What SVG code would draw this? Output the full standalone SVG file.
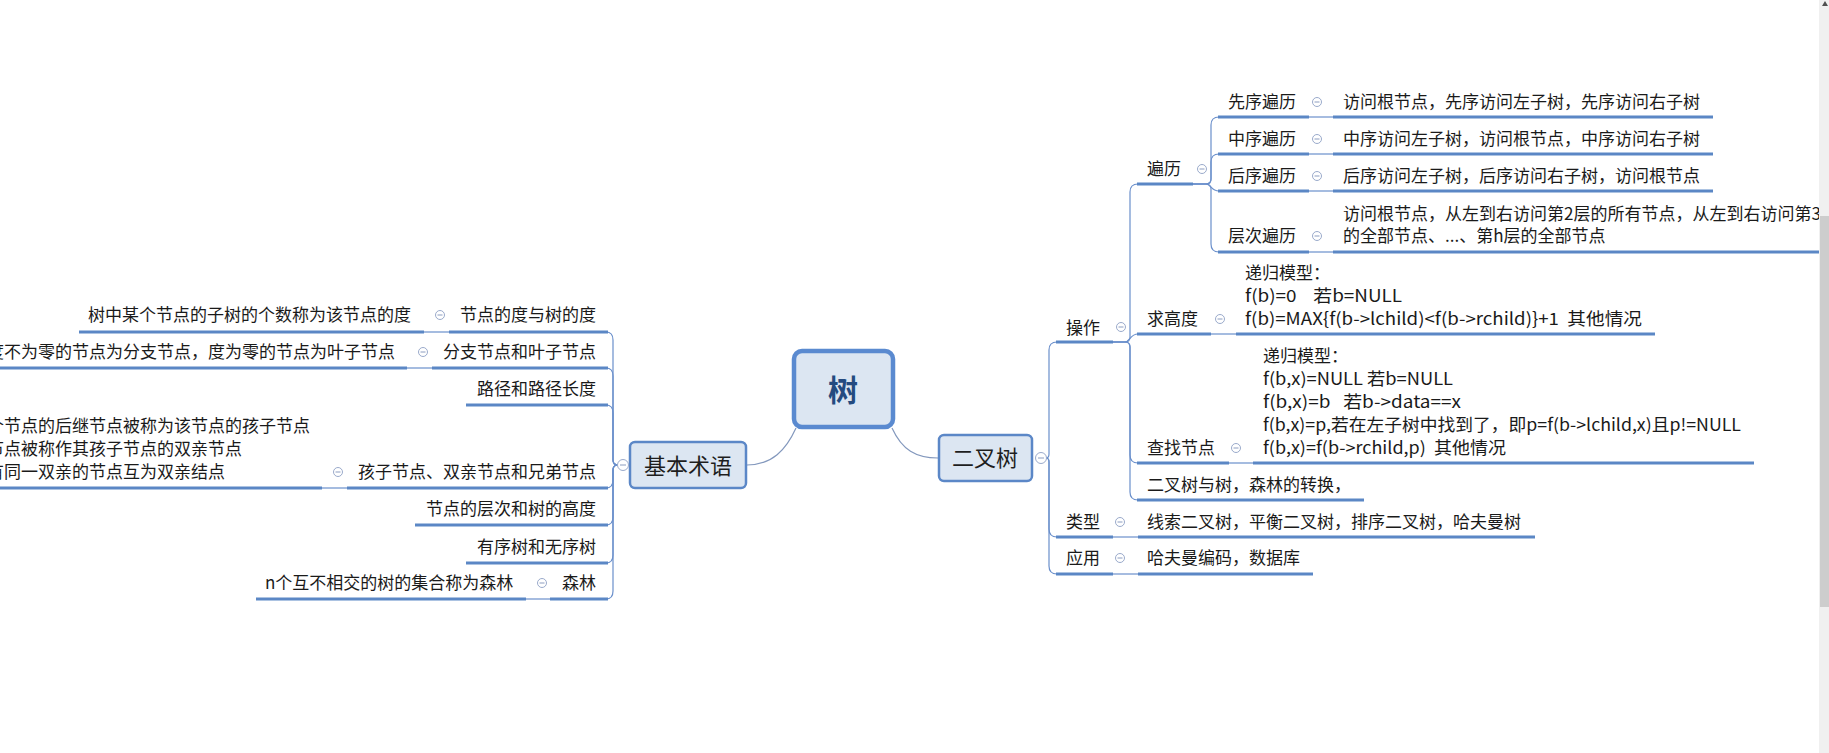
<svg xmlns="http://www.w3.org/2000/svg" width="1829" height="753" viewBox="0 0 1829 753">
<style>
text{font-family:"Noto Sans CJK SC","Microsoft YaHei",sans-serif;font-size:17px;fill:#1a1a1a}
.e{text-anchor:end}
.ul{stroke:#5b87c5;stroke-width:3;fill:none}
.ln{stroke:#6a8fcb;stroke-width:1.2;fill:none}
.rc{stroke:#8398bd;stroke-width:1.2;fill:none}
.ic{fill:#fff;stroke:#9aaacb;stroke-width:1}
.icm{stroke:#8c9dc0;stroke-width:1}
.box{fill:#dce6f2;stroke:#5b87c7;stroke-width:2.5}
.big{font-size:22px;fill:#1e1e1e;text-anchor:middle}
</style>
<defs>
<g id="icon"><circle class="ic" r="4.5"/><line class="icm" x1="-2.5" y1="0" x2="2.5" y2="0"/></g>
<g id="iconL"><circle class="ic" r="5.5"/><line class="icm" x1="-3" y1="0" x2="3" y2="0"/></g>
</defs>
<rect width="1829" height="753" fill="#fff"/>

<g id="connectors">
<path class="rc" d="M796 428 C786 450 772 465 747 465"/>
<path class="rc" d="M892 428 C902 450 916 458 938 458"/>
<!-- 基本术语 bracket -->
<path class="ln" d="M618 465 Q613 465 613 460 L613 340 Q613 332 606 332"/>
<path class="ln" d="M618 465 Q613 465 613 460 L613 376 Q613 368 606 368"/>
<path class="ln" d="M618 465 Q613 465 613 460 L613 413 Q613 405 606 405"/>
<path class="ln" d="M618 465 Q613 465 613 470 L613 480 Q613 488 606 488"/>
<path class="ln" d="M618 465 Q613 465 613 470 L613 517 Q613 525 606 525"/>
<path class="ln" d="M618 465 Q613 465 613 470 L613 555 Q613 563 606 563"/>
<path class="ln" d="M618 465 Q613 465 613 470 L613 591 Q613 599 606 599"/>
<!-- left single links -->
<path class="ln" d="M424 332 H449"/>
<path class="ln" d="M407 368 H432"/>
<path class="ln" d="M322 488 H347"/>
<path class="ln" d="M526 599 H550"/>
<!-- 二叉树 bracket -->
<path class="ln" d="M1046 458 Q1049 458 1049 454 L1049 350 Q1049 342 1057 342"/>
<path class="ln" d="M1046 458 Q1049 458 1049 462 L1049 529 Q1049 537 1057 537"/>
<path class="ln" d="M1046 458 Q1049 458 1049 462 L1049 566 Q1049 574 1057 574"/>
<!-- 操作 bracket -->
<path class="ln" d="M1113 342 H1125 Q1130 342 1130 337 L1130 192 Q1130 184 1138 184"/>
<path class="ln" d="M1113 342 H1125 C1130 342 1130 334 1138 334"/>
<path class="ln" d="M1113 342 H1125 Q1130 342 1130 347 L1130 455 Q1130 463 1138 463"/>
<path class="ln" d="M1113 342 H1125 Q1130 342 1130 347 L1130 492 Q1130 500 1138 500"/>
<!-- 遍历 bracket -->
<path class="ln" d="M1193 184 H1206 Q1211 184 1211 179 L1211 125 Q1211 117 1219 117"/>
<path class="ln" d="M1193 184 H1206 Q1211 184 1211 179 L1211 162 Q1211 154 1219 154"/>
<path class="ln" d="M1193 184 H1206 C1211 184 1211 191 1219 191"/>
<path class="ln" d="M1193 184 H1206 Q1211 184 1211 189 L1211 244 Q1211 252 1219 252"/>
<!-- right single links -->
<path class="ln" d="M1309 117 H1333"/>
<path class="ln" d="M1309 154 H1333"/>
<path class="ln" d="M1309 191 H1333"/>
<path class="ln" d="M1309 252 H1333"/>
<path class="ln" d="M1211 334 H1236"/>
<path class="ln" d="M1229 463 H1253"/>
<path class="ln" d="M1113 537 H1138"/>
<path class="ln" d="M1113 574 H1138"/>
</g>

<g id="root">
<rect x="794" y="351" width="99" height="76" rx="8" fill="#dce6f2" stroke="#5a8ad0" stroke-width="4.5"/>
<text x="843" y="401" style="font-size:30px;font-weight:700;fill:#244b80;text-anchor:middle">树</text>
</g>

<g id="n-jbsy">
<rect class="box" x="630" y="442" width="116" height="46" rx="5"/>
<text class="big" x="688" y="474">基本术语</text>
<use href="#iconL" x="623" y="465"/>
</g>
<g id="n-ecs">
<rect class="box" x="939" y="435" width="93" height="46" rx="5"/>
<text class="big" x="985" y="466">二叉树</text>
<use href="#iconL" x="1041" y="458"/>
</g>

<!-- left side -->
<g id="n-dd">
<text class="e" x="596" y="321">节点的度与树的度</text>
<line class="ul" x1="449" y1="332" x2="608" y2="332"/>
<use href="#icon" x="440" y="315"/>
</g>
<g id="n-dd-c">
<text x="88" y="321">树中某个节点的子树的个数称为该节点的度</text>
<line class="ul" x1="79" y1="332" x2="424" y2="332"/>
</g>
<g id="n-fz">
<text class="e" x="596" y="358">分支节点和叶子节点</text>
<line class="ul" x1="432" y1="368" x2="608" y2="368"/>
<use href="#icon" x="423" y="352"/>
</g>
<g id="n-fz-c">
<text x="-13" y="358">度不为零的节点为分支节点，度为零的节点为叶子节点</text>
<line class="ul" x1="-10" y1="368" x2="407" y2="368"/>
</g>
<g id="n-lj">
<text class="e" x="596" y="395">路径和路径长度</text>
<line class="ul" x1="466" y1="405" x2="608" y2="405"/>
</g>
<g id="n-hz">
<text class="e" x="596" y="478">孩子节点、双亲节点和兄弟节点</text>
<line class="ul" x1="347" y1="488" x2="608" y2="488"/>
<use href="#icon" x="338" y="472"/>
</g>
<g id="n-hz-c">
<text x="-13" y="432">个节点的后继节点被称为该节点的孩子节点</text>
<text x="-13" y="455">节点被称作其孩子节点的双亲节点</text>
<text x="-13" y="478">有同一双亲的节点互为双亲结点</text>
<line class="ul" x1="-10" y1="488" x2="322" y2="488"/>
</g>
<g id="n-cc">
<text class="e" x="596" y="515">节点的层次和树的高度</text>
<line class="ul" x1="415" y1="525" x2="608" y2="525"/>
</g>
<g id="n-yx">
<text class="e" x="596" y="553">有序树和无序树</text>
<line class="ul" x1="466" y1="563" x2="608" y2="563"/>
</g>
<g id="n-sl">
<text class="e" x="596" y="589">森林</text>
<line class="ul" x1="550" y1="599" x2="608" y2="599"/>
<use href="#icon" x="542" y="583"/>
</g>
<g id="n-sl-c">
<text x="265" y="589">n个互不相交的树的集合称为森林</text>
<line class="ul" x1="256" y1="599" x2="526" y2="599"/>
</g>

<!-- right side -->
<g id="n-cz">
<text x="1066" y="334">操作</text>
<line class="ul" x1="1056" y1="342" x2="1113" y2="342"/>
<use href="#icon" x="1121" y="327"/>
</g>
<g id="n-bl">
<text x="1147" y="175">遍历</text>
<line class="ul" x1="1137" y1="184" x2="1193" y2="184"/>
<use href="#icon" x="1202" y="169"/>
</g>
<g id="n-xx">
<text x="1228" y="108">先序遍历</text>
<line class="ul" x1="1218" y1="117" x2="1309" y2="117"/>
<use href="#icon" x="1317" y="102"/>
</g>
<g id="n-xx-c">
<text x="1343" y="108">访问根节点，先序访问左子树，先序访问右子树</text>
<line class="ul" x1="1333" y1="117" x2="1713" y2="117"/>
</g>
<g id="n-zx">
<text x="1228" y="145">中序遍历</text>
<line class="ul" x1="1218" y1="154" x2="1309" y2="154"/>
<use href="#icon" x="1317" y="139"/>
</g>
<g id="n-zx-c">
<text x="1343" y="145">中序访问左子树，访问根节点，中序访问右子树</text>
<line class="ul" x1="1333" y1="154" x2="1713" y2="154"/>
</g>
<g id="n-hx">
<text x="1228" y="182">后序遍历</text>
<line class="ul" x1="1218" y1="191" x2="1309" y2="191"/>
<use href="#icon" x="1317" y="176"/>
</g>
<g id="n-hx-c">
<text x="1343" y="182">后序访问左子树，后序访问右子树，访问根节点</text>
<line class="ul" x1="1333" y1="191" x2="1713" y2="191"/>
</g>
<g id="n-ccbl">
<text x="1228" y="242">层次遍历</text>
<line class="ul" x1="1218" y1="252" x2="1309" y2="252"/>
<use href="#icon" x="1317" y="236"/>
</g>
<g id="n-ccbl-c">
<text x="1343" y="220">访问根节点，从左到右访问第2层的所有节点，从左到右访问第3</text>
<text x="1343" y="242">的全部节点、...、第h层的全部节点</text>
<line class="ul" x1="1333" y1="252" x2="1829" y2="252"/>
</g>
<g id="n-qgd">
<text x="1147" y="325">求高度</text>
<line class="ul" x1="1137" y1="334" x2="1211" y2="334"/>
<use href="#icon" x="1220" y="319"/>
</g>
<g id="n-qgd-c">
<text x="1245" y="279">递归模型：</text>
<text x="1245" y="302" xml:space="preserve" textLength="157" lengthAdjust="spacingAndGlyphs">f(b)=0    若b=NULL</text>
<text x="1245" y="325" xml:space="preserve" textLength="397" lengthAdjust="spacingAndGlyphs">f(b)=MAX{f(b-&gt;lchild)&lt;f(b-&gt;rchild)}+1  其他情况</text>
<line class="ul" x1="1236" y1="334" x2="1655" y2="334"/>
</g>
<g id="n-czjd">
<text x="1147" y="454">查找节点</text>
<line class="ul" x1="1137" y1="463" x2="1229" y2="463"/>
<use href="#icon" x="1236" y="448"/>
</g>
<g id="n-czjd-c">
<text x="1263" y="362">递归模型：</text>
<text x="1263" y="385" xml:space="preserve" textLength="190" lengthAdjust="spacingAndGlyphs">f(b,x)=NULL 若b=NULL</text>
<text x="1263" y="408" xml:space="preserve" textLength="198" lengthAdjust="spacingAndGlyphs">f(b,x)=b   若b-&gt;data==x</text>
<text x="1263" y="431" xml:space="preserve" textLength="478" lengthAdjust="spacingAndGlyphs">f(b,x)=p,若在左子树中找到了，即p=f(b-&gt;lchild,x)且p!=NULL</text>
<text x="1263" y="454" xml:space="preserve" textLength="243" lengthAdjust="spacingAndGlyphs">f(b,x)=f(b-&gt;rchild,p)  其他情况</text>
<line class="ul" x1="1253" y1="463" x2="1754" y2="463"/>
</g>
<g id="n-zh">
<text x="1147" y="491">二叉树与树，森林的转换，</text>
<line class="ul" x1="1137" y1="500" x2="1364" y2="500"/>
</g>
<g id="n-lx">
<text x="1066" y="528">类型</text>
<line class="ul" x1="1056" y1="537" x2="1113" y2="537"/>
<use href="#icon" x="1120" y="522"/>
</g>
<g id="n-lx-c">
<text x="1147" y="528">线索二叉树，平衡二叉树，排序二叉树，哈夫曼树</text>
<line class="ul" x1="1138" y1="537" x2="1535" y2="537"/>
</g>
<g id="n-yy">
<text x="1066" y="564">应用</text>
<line class="ul" x1="1056" y1="574" x2="1113" y2="574"/>
<use href="#icon" x="1120" y="558"/>
</g>
<g id="n-yy-c">
<text x="1147" y="564">哈夫曼编码，数据库</text>
<line class="ul" x1="1138" y1="574" x2="1313" y2="574"/>
</g>

<g id="scrollbar">
<rect x="1819" y="0" width="10" height="753" fill="#f0f0f0"/>
<rect x="1820" y="216" width="9" height="391" fill="#cdcdcd"/>
<path d="M1822 6 L1825 1 L1828 6 Z" fill="#505050"/>
</g>
</svg>
